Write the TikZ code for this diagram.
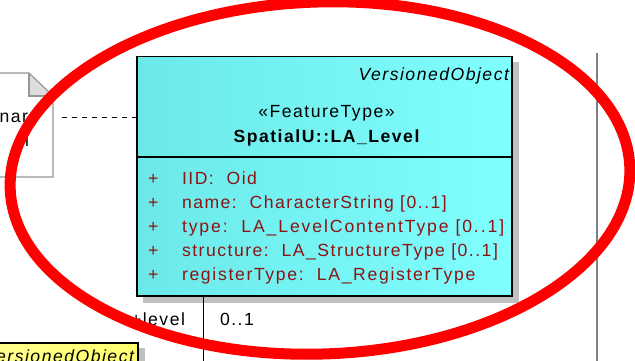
\documentclass[tikz,border=0pt]{standalone}
\usepackage{fontspec}
\setmainfont{Liberation Sans}
\newfontfamily\umlfont{Liberation Sans}[LetterSpace=8.5]
\newfontfamily\umlwide{Liberation Sans}[LetterSpace=10.8]
\newfontfamily\umlmid{Liberation Sans}[LetterSpace=9.5]
\newcommand\umlsize{\fontsize{17.6}{21}\selectfont}
\definecolor{attr}{RGB}{140,20,20}
\definecolor{cyanL}{RGB}{108,232,232}
\definecolor{cyanR}{RGB}{128,255,255}
\definecolor{shadowc}{RGB}{192,192,192}
\definecolor{notegray}{RGB}{150,150,150}
\definecolor{foldgray}{RGB}{221,221,221}
\definecolor{yelL}{RGB}{255,255,140}
\definecolor{yelR}{RGB}{255,255,110}
\definecolor{sepgray}{RGB}{128,128,128}
\begin{document}
\begin{tikzpicture}[x=1pt,y=-1pt,
  font=\umlfont\umlsize,
  txt/.style={inner sep=0pt, outer sep=0pt},
  attrtxt/.style={txt, text=attr, anchor=base west},
  classbox/.style={rectangle, draw=black, line width=1.5pt, left color=cyanL, right color=cyanR, inner sep=0pt, outer sep=0pt},
  yelbox/.style={rectangle, draw=black, line width=1.2pt, left color=yelL, right color=yelR, inner sep=0pt, outer sep=0pt},
  shadowfill/.style={fill=shadowc},
  notebox/.style={draw=notegray, line width=1.2pt},
  conn/.style={draw=black, line width=1pt},
  dashconn/.style={draw=black, line width=1pt, dash pattern=on 5pt off 5pt},
  ring/.style={draw=red, line width=11pt}]
\useasboundingbox (0,0) rectangle (635,360);

% separator line on the right
\coordinate (vtop) at (597,53);
\coordinate (vbot) at (597,362);
\draw[sepgray, line width=1.5pt] (vtop) -- (vbot);

% note (left)
\fill[white] (-3,73) -- (29,73) -- (53,96) -- (53,177) -- (-3,177) -- cycle;
\fill[foldgray] (29,73) -- (29,96) -- (53,96) -- cycle;
\draw[notebox] (-3,73) -- (29,73) -- (53,96) -- (53,177) -- (-3,177);
\draw[notebox] (29,73) -- (29,96) -- (53,96);
\node[txt, anchor=base east] (n1) at (28,122) {nar};
\node[txt, anchor=base west] (n2) at (25,146) {i};
\coordinate (noteE) at (62,117);

% main class
\fill[shadowfill] (143,62) rectangle (519,303);
\node[classbox, anchor=north west, minimum width=375pt, minimum height=239.5pt] (cls) at (137,56.5) {};
\coordinate (divY) at (0,157);
\draw[line width=1.2pt] (cls.west |- divY) -- (cls.east |- divY);

\node[txt, anchor=base east, font=\umlfont\umlsize\itshape] (vo) at (509,80) {VersionedObject};
\node[txt, anchor=base] (st) at (326.5,117) {«FeatureType»};
\node[txt, anchor=base, font=\umlfont\umlsize\bfseries] (cn) at (326.5,142) {SpatialU::LA\_Level};

\foreach \yy/\nm/\tx in {184/a1/{IID:~~Oid},
                         208/a2/{name:~~CharacterString [0..1]},
                         232/a3/{\umlwide type:~~LA\_LevelContentType [0..1]},
                         256/a4/{structure:~~LA\_StructureType [0..1]},
                         280/a5/{\umlmid registerType:~~LA\_RegisterType}}{
  \node[attrtxt] (\nm p) at (148,\yy) {+};
  \node[attrtxt] (\nm) at (182,\yy) {\tx};
}

% dashed dependency from note
\draw[dashconn] (noteE) -- (cls.west |- noteE);

% association going down
\coordinate (lvlEnd) at (203,362);
\draw[conn] (cls.south -| lvlEnd) -- (lvlEnd);
\node[txt, anchor=base east] (role) at (185,325) {+level};
\node[txt, anchor=base west] (mult) at (220,325) {0..1};

% yellow class at bottom left
\fill[shadowfill] (-5,348) rectangle (145,370);
\node[yelbox, anchor=north east, minimum width=146pt, minimum height=30pt] (vobj) at (138,343) {};
\node[txt, anchor=base east, font=\umlfont\umlsize\itshape] (vobjt) at (134,362.5) {VersionedObject};

% red highlight ring
\draw[ring, rotate around={2:(320,178)}] (320,178) ellipse [x radius=310pt, y radius=176pt];
\end{tikzpicture}
\end{document}
